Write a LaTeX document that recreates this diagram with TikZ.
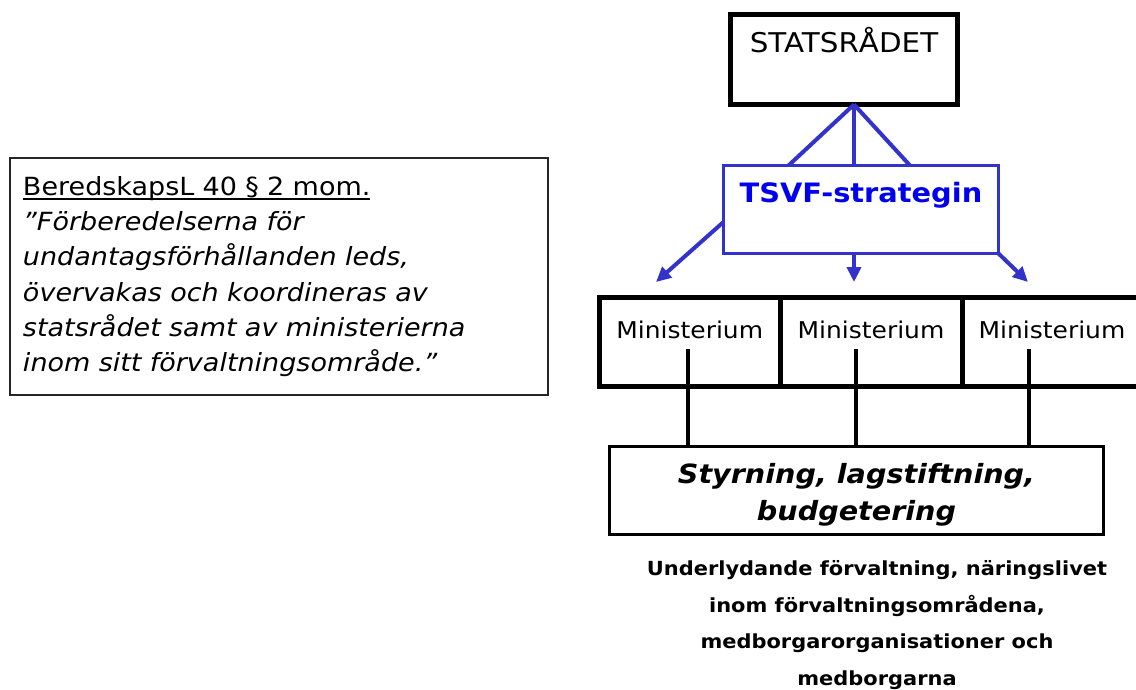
\documentclass[tikz,border=0pt]{standalone}
\usepackage{fontspec}
\setmainfont{DejaVu Sans}[FakeStretch=1.08]
\usetikzlibrary{positioning}
\usetikzlibrary{arrows.meta}
\definecolor{tsvfline}{RGB}{51,51,204}
\definecolor{tsvftext}{RGB}{0,0,238}
\newcommand{\lawline}[1]{\setbox0\hbox{#1}\rlap{\rule[-4.5pt]{\wd0}{1.8pt}}\box0}
\tikzset{
        boxnode/.style={rectangle, draw, inner sep=0pt, outer sep=0pt, align=center},
        % Council box
        node_council/.style={boxnode, line width=5pt, minimum width=227pt, minimum height=90pt,
            text height=38.5pt, text depth=51.5pt, font=\fontsize{27.2}{33}\selectfont},
        % Strategy box
        node_strategy/.style={boxnode, draw=tsvfline, line width=3pt, text=tsvftext, minimum width=275pt,
            text height=37.5pt, text depth=50.5pt, font=\bfseries\fontsize{26.7}{32}\selectfont},
        % Ministry boxes
        node_ministry/.style={boxnode, line width=5pt, minimum height=89pt,
            text height=40.5pt, text depth=48.5pt, font=\fontsize{23.1}{28}\selectfont},
        % Steering box
        node_steering/.style={boxnode, line width=3pt},
        % Quote box
        node_quote/.style={boxnode, draw=black!85, line width=2pt, align=left, inner xsep=13pt},
        % Connectors
        strategy_link/.style={draw=tsvfline, line width=4pt},
        strategy_arrow/.style={strategy_link, -{Triangle[length=15pt,width=14pt]}},
        drop_link/.style={draw=black, line width=4pt}
}
\begin{document}
\begin{tikzpicture}[x=1pt, y=-1pt]
    \useasboundingbox (0,0) rectangle (1136,690);

    \node[node_council] (stat) at (844,59.5) {STATSRÅDET};
    \node[node_strategy] (tsvf) at (861,209.5) {TSVF-strategin};

    \node[node_ministry, minimum width=180.5pt] (min1) at (689.75,342) {Ministerium};
    \node[node_ministry, minimum width=182pt, right=0pt of min1] (min2) {Ministerium};
    \node[node_ministry, minimum width=180pt, right=0pt of min2] (min3) {Ministerium};

    \node[node_steering, minimum width=494pt, minimum height=88pt] (styr) at (856.5,490.5) {};
    \node[align=center, font=\bfseries\itshape\fontsize{26.5}{37}\selectfont] (styrtext) at (856.5,494.6)
        {Styrning, lagstiftning,\\budgetering};

    \node[align=center, font=\bfseries\fontsize{19.4}{36.7}\selectfont] (people) at (877,625)
        {Underlydande förvaltning, näringslivet\\inom förvaltningsområdena,\\medborgarorganisationer och\\medborgarna};

    \node[node_quote, text width=512pt, minimum height=237pt, font=\fontsize{25}{35.3}\selectfont] (law) at (279,276.5)
        {\lawline{BeredskapsL 40 § 2 mom.}\\
         \textit{”Förberedelserna för}\\
         \textit{undantagsförhållanden leds,}\\
         \textit{övervakas och koordineras av}\\
         \textit{statsrådet samt av ministerierna}\\
         \textit{inom sitt förvaltningsområde.”}};

    % council to strategy
    \foreach \dx in {-72.5,-7,49}
        \draw[strategy_link] ([xshift=10pt]stat.south) -- ([xshift=\dx pt]tsvf.north);

    % strategy to ministries
    \coordinate (tip1) at (656,282);
    \coordinate (tip2) at (854,282);
    \coordinate (tip3) at (1028,282);
    \draw[strategy_arrow] ([yshift=-12.5pt]tsvf.west) -- (tip1);
    \draw[strategy_arrow] ([xshift=-7pt]tsvf.south) -- (tip2);
    \draw[strategy_arrow] (tsvf.south east) -- (tip3);

    % ministries to steering
    \foreach \x [count=\i] in {688,856,1029} {
        \coordinate (drop\i) at (\x,349);
        \draw[drop_link] (drop\i) -- (drop\i |- styr.north);
    }
\end{tikzpicture}
\end{document}
